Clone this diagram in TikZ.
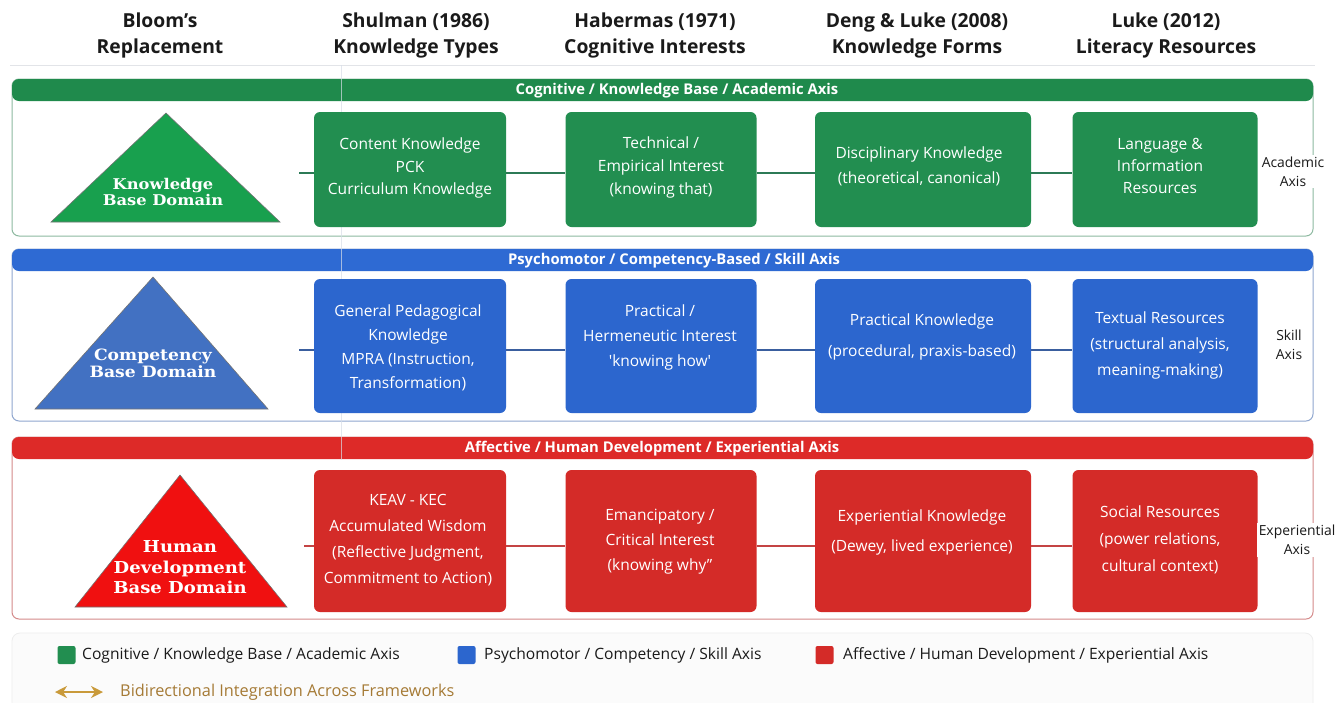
\documentclass[tikz,border=0pt]{standalone}
\usepackage{fontspec}
\setmainfont{Open Sans}
\newfontfamily\trifont[FakeStretch=1.1]{DejaVu Serif}
\usetikzlibrary{arrows.meta}
\definecolor{gbar}{HTML}{1F8A4C}
\definecolor{gbox}{HTML}{228E50}
\definecolor{gtri}{HTML}{18A04E}
\definecolor{gframe}{HTML}{8DB9A0}
\definecolor{gline}{HTML}{2C7A56}
\definecolor{bbar}{HTML}{2E6AD3}
\definecolor{bbox}{HTML}{2C66CE}
\definecolor{btri}{HTML}{4271C2}
\definecolor{bframe}{HTML}{8FA6CF}
\definecolor{bline}{HTML}{3A5E9E}
\definecolor{rbar}{HTML}{DD2A28}
\definecolor{rbox}{HTML}{D42B28}
\definecolor{rtri}{HTML}{F01010}
\definecolor{rframe}{HTML}{D48A8A}
\definecolor{rline}{HTML}{C44444}
\definecolor{gold}{HTML}{C99A3A}
\definecolor{goldtxt}{HTML}{A57A35}
\definecolor{hdr}{HTML}{1A1A1A}
\definecolor{sepgrey}{HTML}{E2E4E8}
\definecolor{vline}{HTML}{D8DEE8}
\tikzset{
  hdrtxt/.style={font=\fontsize{19.3}{26}\selectfont\bfseries, text=hdr, align=center, inner sep=0pt},
  bartxt/.style={font=\fontsize{14.8}{16}\selectfont\bfseries, text=white, inner sep=0pt},
  boxshape/.style={rounded corners=6pt, inner sep=0pt, draw=none},
  boxtxt/.style={font=\fontsize{15.5}{24}\selectfont, text=white, align=center, inner sep=0pt},
  tritxt/.style={font=\trifont\bfseries, text=white, align=center, inner sep=0pt},
  axistxt/.style={font=\fontsize{13.9}{19}\selectfont, text=hdr, align=center, fill=white, inner sep=2pt},
  legtxt/.style={font=\fontsize{15.6}{18}\selectfont, text=hdr, anchor=west, inner sep=0pt},
  legsq/.style={minimum width=18pt, minimum height=18pt, rounded corners=2pt, inner sep=0pt},
  conn/.style={line width=1.6pt},
  frame/.style={line width=1pt, rounded corners=7pt},
  trishape/.style={draw=black!55, line width=0.6pt}
}
\begin{document}
\begin{tikzpicture}[x=1pt,y=-1pt]
\useasboundingbox (0,0) rectangle (1338,702);
\fill[white] (0,0) rectangle (1338,702);

% headers
\node[hdrtxt] (h0) at (160,35) {Bloom's\\Replacement};
\node[hdrtxt] (h1) at (416,35) {Shulman (1986)\\Knowledge Types};
\node[hdrtxt] (h2) at (655,35) {Habermas (1971)\\Cognitive Interests};
\node[hdrtxt] (h3) at (917,35) {Deng \& Luke (2008)\\Knowledge Forms};
\node[hdrtxt] (h4) at (1166,35) {Luke (2012)\\Literacy Resources};
\draw[sepgrey, line width=1pt] (10,65) -- (1315,65);

% ===== frames and bars
\draw[frame, draw=gframe] (12,79) rectangle (1313,236);
\fill[gbar, rounded corners=7pt] (12,79) rectangle (1313,101);
\draw[frame, draw=bframe] (12,249) rectangle (1313,421);
\fill[bbar, rounded corners=7pt] (12,249) rectangle (1313,271);
\draw[frame, draw=rframe] (12,437) rectangle (1313,619);
\fill[rbar, rounded corners=7pt] (12,437) rectangle (1313,459);

\draw[vline, line width=1pt, opacity=0.7] (341,65) -- (341,460);

\node[bartxt] (gbt) at (677,90.5) {Cognitive / Knowledge Base / Academic Axis};
\node[bartxt] (bbt) at (674,260.5) {Psychomotor / Competency-Based / Skill Axis};
\node[bartxt] (rbt) at (652,448.5) {Affective / Human Development / Experiential Axis};

% ===== triangles
\fill[gtri] (166,113) -- (280,222) -- (51,222) -- cycle;
\draw[trishape] (166,113) -- (280,222) -- (51,222) -- cycle;
\fill[btri] (153,277) -- (268,409) -- (35,409) -- cycle;
\draw[trishape] (153,277) -- (268,409) -- (35,409) -- cycle;
\fill[rtri] (180,475) -- (287,607) -- (75,607) -- cycle;
\draw[trishape] (180,475) -- (287,607) -- (75,607) -- cycle;

\node[tritxt, font=\trifont\bfseries\fontsize{14.8}{14}\selectfont] (gtt) at (163,192) {Knowledge\\Base Domain};
\node[tritxt, font=\trifont\bfseries\fontsize{15.6}{17.5}\selectfont] (btt) at (153,363.5) {Competency\\Base Domain};
\node[tritxt, font=\trifont\bfseries\fontsize{16.4}{20.5}\selectfont] (rtt) at (180,567.5) {Human\\Development\\Base Domain};

% ===== connector start points
\coordinate (gs) at (299,173);
\coordinate (bs) at (299,350);
\coordinate (rs) at (304,546);

% ===== green boxes
\node[boxshape, fill=gbox, minimum width=192pt, minimum height=115pt] (g1) at (410,169.5) {};
\node[boxshape, fill=gbox, minimum width=191pt, minimum height=115pt] (g2) at (661,169.5) {};
\node[boxshape, fill=gbox, minimum width=216pt, minimum height=115pt] (g3) at (923,169.5) {};
\node[boxshape, fill=gbox, minimum width=185pt, minimum height=115pt] (g4) at (1165,169.5) {};
\draw[conn, gline] (gs) -- (g1.west |- gs);
\draw[conn, gline] (g1.east |- gs) -- (g2.west |- gs);
\draw[conn, gline] (g2.east |- gs) -- (g3.west |- gs);
\draw[conn, gline] (g3.east |- gs) -- (g4.west |- gs);
\node[boxtxt, font=\fontsize{15.5}{22.5}\selectfont] (g1t) at (410,168) {Content Knowledge\\PCK\\Curriculum Knowledge};
\node[boxtxt, font=\fontsize{15.5}{23}\selectfont] (g2t) at (661,167.5) {Technical /\\Empirical Interest\\(knowing that)};
\node[boxtxt, font=\fontsize{15.5}{25}\selectfont] (g3t) at (919,166.5) {Disciplinary Knowledge\\(theoretical, canonical)};
\node[boxtxt, font=\fontsize{15.5}{22}\selectfont] (g4t) at (1160,166) {Language \&\\Information\\Resources};

% ===== blue boxes
\node[boxshape, fill=bbox, minimum width=192pt, minimum height=134pt] (b1) at (410,346) {};
\node[boxshape, fill=bbox, minimum width=191pt, minimum height=134pt] (b2) at (661,346) {};
\node[boxshape, fill=bbox, minimum width=216pt, minimum height=134pt] (b3) at (923,346) {};
\node[boxshape, fill=bbox, minimum width=185pt, minimum height=134pt] (b4) at (1165,346) {};
\draw[conn, bline] (bs) -- (b1.west |- bs);
\draw[conn, bline] (b1.east |- bs) -- (b2.west |- bs);
\draw[conn, bline] (b2.east |- bs) -- (b3.west |- bs);
\draw[conn, bline] (b3.east |- bs) -- (b4.west |- bs);
\node[boxtxt, font=\fontsize{15.5}{24}\selectfont] (b1t) at (408,348) {General Pedagogical\\Knowledge\\MPRA (Instruction,\\Transformation)};
\node[boxtxt, font=\fontsize{15.5}{25}\selectfont] (b2t) at (660,337) {Practical /\\Hermeneutic Interest\\\textquotesingle knowing how\textquotesingle};
\node[boxtxt, font=\fontsize{15.5}{31}\selectfont] (b3t) at (922,336.5) {Practical Knowledge\\(procedural, praxis-based)};
\node[boxtxt, font=\fontsize{15.5}{26}\selectfont] (b4t) at (1160,345) {Textual Resources\\(structural analysis,\\meaning-making)};

% ===== red boxes
\node[boxshape, fill=rbox, minimum width=192pt, minimum height=142pt] (r1) at (410,541) {};
\node[boxshape, fill=rbox, minimum width=191pt, minimum height=142pt] (r2) at (661,541) {};
\node[boxshape, fill=rbox, minimum width=216pt, minimum height=142pt] (r3) at (923,541) {};
\node[boxshape, fill=rbox, minimum width=185pt, minimum height=142pt] (r4) at (1165,541) {};
\draw[conn, rline] (rs) -- (r1.west |- rs);
\draw[conn, rline] (r1.east |- rs) -- (r2.west |- rs);
\draw[conn, rline] (r2.east |- rs) -- (r3.west |- rs);
\draw[conn, rline] (r3.east |- rs) -- (r4.west |- rs);
\node[boxtxt, font=\fontsize{15.5}{26}\selectfont] (r1t) at (408,540) {KEAV - KEC\\Accumulated Wisdom\\(Reflective Judgment,\\Commitment to Action)};
\node[boxtxt, font=\fontsize{15.5}{25}\selectfont] (r2t) at (660,542) {Emancipatory /\\Critical Interest\\(knowing why"};
\node[boxtxt, font=\fontsize{15.5}{30}\selectfont] (r3t) at (922,532) {Experiential Knowledge\\(Dewey, lived experience)};
\node[boxtxt, font=\fontsize{15.5}{27}\selectfont] (r4t) at (1160,540) {Social Resources\\(power relations,\\cultural context)};

% ===== axis labels
\node[axistxt] (ga) at (1293,171.5) {Academic\\Axis};
\node[axistxt] (ba) at (1289,345) {Skill\\Axis};
\node[axistxt] (ra) at (1297,540) {Experiential\\Axis};

% ===== legend
\draw[fill=black!1.5, draw=black!7, line width=0.8pt, rounded corners=8pt] (12,633) rectangle (1313,720);
\node[legsq, fill=gbox] (lg) at (66.5,655) {};
\node[legtxt] (lgt) at (82,655) {Cognitive / Knowledge Base / Academic Axis};
\node[legsq, fill=bbox] (lb) at (466.5,655) {};
\node[legtxt] (lbt) at (484,655) {Psychomotor / Competency / Skill Axis};
\node[legsq, fill=rbox] (lr) at (824.5,655) {};
\node[legtxt] (lrt) at (843,655) {Affective / Human Development / Experiential Axis};
\coordinate (la1) at (55,692);
\coordinate (la2) at (103,692);
\draw[gold, line width=1.8pt, {Stealth[length=12pt,width=12pt]}-{Stealth[length=12pt,width=12pt]}] (la1) -- (la2);
\node[legtxt, text=goldtxt, font=\fontsize{16.3}{18}\selectfont] (lat) at (120,692) {Bidirectional Integration Across Frameworks};
\end{tikzpicture}
\end{document}
